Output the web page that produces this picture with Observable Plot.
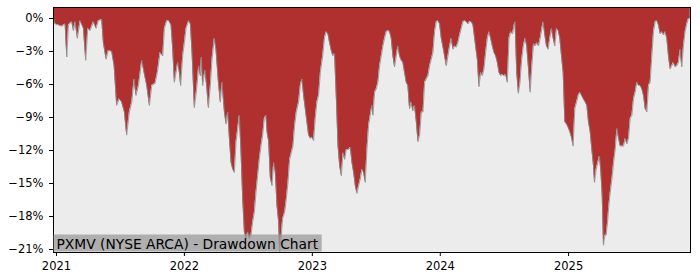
<!DOCTYPE html>
<html>
<head>
<meta charset="utf-8">
<script src="https://cdn.jsdelivr.net/npm/d3@7"></script>
<script src="https://cdn.jsdelivr.net/npm/@observablehq/plot@0.6"></script>
<style>
  html, body { margin: 0; padding: 0; background: white; }
  #chart { width: 700px; height: 280px; }
</style>
</head>
<body>
<div id="chart"></div>
<script>
const title = "PXMV (NYSE ARCA) - Drawdown Chart";
const yearTicks = [2021, 2022, 2023, 2024, 2025];
const yTicks = [0, -3, -6, -9, -12, -15, -18, -21];
const xRange = [2020.977, 2025.953];

// time as fractional years
const yearFrac = [
2020.977,2020.990,2021.016,2021.042,2021.068,2021.081,2021.094,2021.120,2021.133,2021.146,
2021.164,2021.185,2021.211,2021.229,2021.245,2021.263,2021.289,2021.310,2021.328,2021.354,
2021.367,2021.388,2021.406,2021.432,2021.451,2021.471,2021.490,2021.510,2021.531,2021.549,
2021.570,2021.589,2021.607,2021.622,2021.641,2021.667,2021.685,2021.706,2021.727,2021.745,
2021.771,2021.789,2021.810,2021.831,2021.844,2021.862,2021.878,2021.896,2021.909,2021.922,
2021.935,2021.948,2021.961,2021.971,2021.987,2022.000,2022.013,2022.034,2022.047,2022.060,
2022.078,2022.096,2022.112,2022.125,2022.133,2022.143,2022.161,2022.174,2022.188,2022.203,
2022.216,2022.234,2022.247,2022.266,2022.281,2022.294,2022.313,2022.326,2022.339,2022.352,
2022.365,2022.378,2022.391,2022.404,2022.417,2022.430,2022.443,2022.456,2022.469,2022.482,
2022.495,2022.508,2022.521,2022.534,2022.547,2022.560,2022.573,2022.586,2022.599,2022.612,
2022.625,2022.638,2022.646,2022.659,2022.672,2022.685,2022.698,2022.711,2022.724,2022.737,
2022.745,2022.755,2022.768,2022.784,2022.797,2022.810,2022.823,2022.836,2022.849,2022.862,
2022.875,2022.893,2022.906,2022.919,2022.932,2022.945,2022.958,2022.971,2022.984,2022.997,
2023.010,2023.023,2023.036,2023.049,2023.063,2023.081,2023.096,2023.109,2023.122,2023.135,
2023.148,2023.161,2023.174,2023.188,2023.201,2023.214,2023.227,2023.240,2023.253,2023.266,
2023.284,2023.297,2023.310,2023.323,2023.336,2023.349,2023.362,2023.375,2023.388,2023.401,
2023.414,2023.427,2023.440,2023.453,2023.466,2023.474,2023.487,2023.500,2023.513,2023.526,
2023.539,2023.552,2023.565,2023.578,2023.591,2023.604,2023.617,2023.630,2023.643,2023.656,
2023.669,2023.682,2023.695,2023.708,2023.721,2023.734,2023.747,2023.760,2023.773,2023.786,
2023.799,2023.813,2023.826,2023.839,2023.852,2023.865,2023.878,2023.891,2023.904,2023.917,
2023.930,2023.943,2023.956,2023.969,2023.982,2023.995,2024.008,2024.021,2024.034,2024.047,
2024.060,2024.073,2024.086,2024.099,2024.112,2024.125,2024.138,2024.151,2024.164,2024.177,
2024.190,2024.203,2024.216,2024.229,2024.242,2024.255,2024.268,2024.281,2024.289,2024.302,
2024.315,2024.328,2024.341,2024.354,2024.367,2024.380,2024.393,2024.406,2024.419,2024.432,
2024.445,2024.458,2024.471,2024.484,2024.497,2024.510,2024.523,2024.536,2024.549,2024.563,
2024.576,2024.583,2024.596,2024.609,2024.622,2024.635,2024.648,2024.661,2024.674,2024.688,
2024.701,2024.714,2024.727,2024.740,2024.753,2024.766,2024.779,2024.792,2024.802,2024.815,
2024.828,2024.841,2024.854,2024.867,2024.880,2024.893,2024.906,2024.919,2024.932,2024.945,
2024.958,2024.971,2024.984,2024.997,2025.010,2025.023,2025.036,2025.049,2025.063,2025.076,
2025.089,2025.102,2025.115,2025.130,2025.143,2025.156,2025.169,2025.182,2025.195,2025.203,
2025.216,2025.229,2025.242,2025.253,2025.263,2025.273,2025.284,2025.294,2025.305,2025.315,
2025.326,2025.339,2025.352,2025.365,2025.378,2025.391,2025.404,2025.417,2025.430,2025.443,
2025.456,2025.469,2025.482,2025.495,2025.508,2025.521,2025.534,2025.547,2025.560,2025.573,
2025.586,2025.599,2025.612,2025.625,2025.638,2025.651,2025.664,2025.677,2025.690,2025.703,
2025.716,2025.729,2025.742,2025.755,2025.768,2025.781,2025.794,2025.807,2025.820,2025.833,
2025.846,2025.859,2025.872,2025.885,2025.898,2025.911,2025.924,2025.937,2025.951
];

// drawdown in percent
const drawdown = [
0,-0.5,-0.6,-0.7,-0.5,-3.5,-0.6,-0.3,-1.1,-0.3,
-1.8,-0.2,-0.9,-3.8,-0.9,-1.1,-0.3,-0.9,-0.2,-0.1,
-2.2,-3.7,-2.9,-3.0,-4.3,-7.9,-7.3,-7.6,-8.5,-10.6,
-8.5,-7.6,-5.5,-7.0,-6.1,-3.8,-4.9,-6.1,-7.9,-6.1,
-5.9,-4.9,-3.1,-3.4,-0.9,-0.2,-0.2,-0.6,-2.8,-5.8,
-4.9,-4.0,-4.9,-6.1,-3.4,-2.2,-0.9,-0.2,-0.5,-3.1,
-8.1,-6.4,-4.3,-5.2,-3.5,-6.1,-4.7,-6.1,-8.1,-6.1,
-3.7,-1.8,-2.8,-5.8,-7.6,-5.8,-8.5,-9.6,-8.5,-10.9,
-13.1,-13.7,-14.0,-11.2,-10.0,-8.8,-12.2,-16.4,-19.4,-20.0,
-19.4,-20.0,-19.7,-18.5,-17.6,-15.8,-14.3,-12.8,-11.6,-10.6,
-9.1,-8.8,-10.3,-11.2,-14.5,-15.2,-13.1,-14.0,-17.0,-18.5,
-21.2,-20.0,-18.2,-17.6,-16.4,-14.9,-12.8,-12.2,-11.6,-9.7,
-8.5,-7.6,-6.1,-5.5,-7.0,-8.2,-9.4,-10.6,-10.9,-10.8,
-11.1,-9.1,-7.6,-7.0,-4.9,-3.4,-1.7,-1.2,-1.4,-2.2,
-2.9,-3.4,-3.2,-7.3,-11.6,-13.4,-14.3,-12.2,-12.8,-11.9,
-11.9,-11.7,-13.1,-14.0,-15.2,-15.9,-15.2,-14.6,-13.7,-14.0,
-14.9,-11.9,-9.7,-8.8,-7.9,-8.8,-6.7,-6.4,-5.8,-4.3,
-3.4,-2.5,-1.8,-1.2,-1.1,-1.2,-1.8,-3.4,-4.4,-3.4,
-2.5,-3.4,-3.8,-4.0,-4.9,-5.8,-6.1,-8.2,-7.6,-8.4,
-7.9,-9.4,-11.2,-10.6,-8.5,-8.5,-5.8,-5.5,-5.2,-4.3,
-3.7,-3.1,-1.2,-0.3,-0.2,-0.5,-1.8,-2.6,-3.4,-4.3,
-3.4,-2.5,-1.8,-2.8,-2.5,-2.6,-2.2,-1.5,-0.9,-0.3,
-0.2,-0.3,-0.5,-0.3,-0.3,-0.6,-1.8,-3.0,-3.7,-6.2,
-4.9,-5.2,-4.6,-3.1,-1.8,-1.2,-1.8,-2.5,-3.1,-3.4,
-4.0,-4.9,-5.2,-5.1,-5.2,-5.1,-5.8,-1.8,-1.2,-1.4,
-0.6,-0.3,-4.9,-6.8,-5.8,-3.7,-2.5,-1.8,-2.5,-4.6,
-6.7,-4.3,-2.3,-2.5,-2.2,-2.5,-1.8,-0.9,-0.3,-1.5,
-2.5,-2.8,-1.8,-0.9,-1.8,-2.5,-0.9,-1.1,-1.8,-3.4,
-4.9,-9.4,-9.6,-9.9,-10.3,-10.8,-11.6,-8.2,-7.6,-7.0,
-6.7,-7.0,-7.3,-7.6,-7.9,-9.4,-10.3,-11.9,-13.4,-14.9,
-13.7,-13.1,-12.5,-14.0,-16.1,-20.6,-19.7,-19.7,-18.5,-17.0,
-15.8,-14.6,-13.1,-11.9,-10.0,-10.9,-11.6,-11.6,-11.6,-10.9,
-11.4,-10.9,-9.1,-8.8,-7.3,-6.7,-5.8,-6.1,-6.1,-6.4,
-7.0,-8.2,-8.5,-6.1,-5.8,-3.4,-1.2,-0.3,-0.2,-0.6,
-1.4,-1.2,-1.5,-1.2,-1.8,-3.4,-4.6,-4.3,-4.0,-4.4,
-4.3,-4.0,-2.8,-4.4,-2.5,-1.2,-0.5,0.0,0.0
];

function toDate(t) {
  const y = Math.floor(t);
  const a = Date.UTC(y, 0, 1), b = Date.UTC(y + 1, 0, 1);
  return new Date(a + (t - y) * (b - a));
}

const data = yearFrac.map((t, i) => ({date: toDate(t), dd: drawdown[i]}));
const yTop = 1.0, yBottom = -21.27;
const pct = d => (d < 0 ? "\u2212" : "") + Math.abs(d) + "%";

const chart = Plot.plot({
  width: 700,
  height: 280,
  marginLeft: 53,
  marginRight: 10,
  marginTop: 7,
  marginBottom: 28,
  style: {fontFamily: "DejaVu Sans", fontSize: "11.5px", background: "white", color: "black"},
  x: {type: "utc", domain: xRange.map(toDate)},
  y: {domain: [yBottom, yTop]},
  marks: [
    Plot.frame({fill: "#ececec"}),
    Plot.areaY(data, {x: "date", y1: "dd", y2: yTop, fill: "#b02f2f"}),
    Plot.lineY(data, {x: "date", y: "dd", stroke: "#8c8c8c", strokeWidth: 0.8}),
    Plot.frame({stroke: "black", strokeWidth: 1}),
    Plot.axisX(yearTicks.map(y => toDate(y)), {tickFormat: "%Y", tickSize: 4, tickPadding: 5, label: null, fontSize: 11.5}),
    Plot.axisY(yTicks, {tickFormat: pct, tickSize: 4, tickPadding: 6, label: null, fontSize: 11.5}),
    Plot.text([title], {frameAnchor: "bottom-left", dx: 3, dy: -4, text: d => d, fontSize: 13.8, textAnchor: "start", lineAnchor: "bottom", fill: "black", className: "ttl"})
  ]
});

document.getElementById("chart").appendChild(chart);

// grey background box behind the title label, sized to the rendered text
const svgNode = chart;
const textNode = svgNode.querySelector("g.ttl text");
if (textNode) {
  const sr = svgNode.getBoundingClientRect();
  const tr = textNode.getBoundingClientRect();
  const x0 = 53.5, y0 = tr.top - sr.top - 1;
  const x1 = tr.right - sr.left + 3, y1 = 251.5;
  d3.select(svgNode).insert("rect", "g.ttl")
    .attr("x", x0).attr("y", y0)
    .attr("width", x1 - x0).attr("height", y1 - y0)
    .attr("fill", "rgba(150,150,150,0.7)");
}
</script>
</body>
</html>
